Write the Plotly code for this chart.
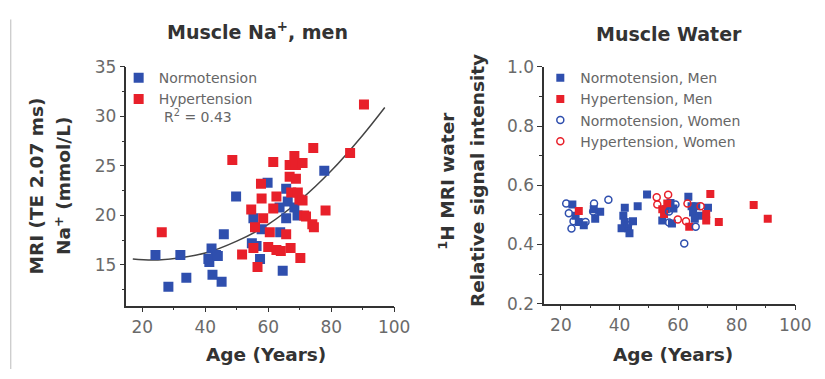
import plotly.graph_objects as go

W, H = 825, 379

# ---------------- Left panel: Muscle Na+, men ----------------
norm_age = [24.2, 28.3, 32.1, 34.0, 41.3, 42.0, 43.4, 42.3, 45.2, 41.0, 44.0, 45.9, 49.8,
            55.3, 54.8, 56.3, 57.4, 57.9, 59.8, 63.6, 63.8, 64.6, 65.7, 65.7, 66.2, 68.3, 69.3, 77.8]
norm_na = [16.0, 12.8, 16.0, 13.7, 15.3, 16.65, 16.0, 14.0, 13.3, 15.6, 15.9, 18.1, 21.9,
           19.7, 17.2, 16.9, 15.6, 18.6, 23.3, 20.8, 18.3, 14.4, 22.7, 19.7, 21.4, 20.8, 20.0, 24.5]

hyp_age = [26.2, 48.6, 51.7, 54.6, 55.8, 55.3, 56.6, 57.7, 57.9, 58.4, 60.5, 60.0, 61.6, 61.6,
           62.6, 62.6, 64.0, 65.7, 67.1, 66.8, 68.3, 68.8, 70.9, 66.8, 68.8, 67.3, 69.4, 69.9,
           70.9, 71.4, 72.0, 70.2, 74.0, 74.5, 74.3, 78.2, 86.0, 90.4]
hyp_na = [18.3, 25.6, 16.05, 20.6, 18.8, 16.7, 14.8, 23.2, 21.7, 19.7, 18.3, 16.8, 25.4, 20.7,
          21.9, 16.5, 16.4, 18.1, 16.7, 25.1, 26.0, 25.1, 25.3, 23.9, 23.7, 22.3, 22.3, 21.6,
          21.5, 20.0, 19.9, 15.7, 19.1, 18.8, 26.8, 20.5, 26.3, 31.2]

# regression curve
fit_age = [17, 25, 40, 50, 60, 70, 80, 90, 97]
fit_na = [15.6, 15.5, 16.2, 17.4, 19.1, 21.5, 24.5, 28.1, 30.9]

# ---------------- Right panel: Muscle Water ----------------
nm_age = [23.9, 25.0, 26.1, 27.8, 31.7, 31.2, 33.4, 41.8, 41.3, 40.7, 41.8, 42.9, 43.4, 44.6,
          46.2, 49.4, 54.6, 55.8, 57.4, 57.9, 58.4, 63.5, 64.6, 65.1, 66.2, 67.3, 65.7, 70.2]
nm_w = [0.535, 0.497, 0.476, 0.465, 0.487, 0.519, 0.510, 0.524, 0.497, 0.455, 0.476, 0.455,
        0.438, 0.478, 0.529, 0.569, 0.481, 0.519, 0.540, 0.471, 0.521, 0.561, 0.529, 0.508,
        0.529, 0.497, 0.487, 0.524]

hm_age = [26.1, 54.6, 55.2, 56.3, 63.8, 69.6, 69.6, 71.0, 73.9, 85.8, 90.6]
hm_w = [0.513, 0.519, 0.503, 0.538, 0.460, 0.503, 0.481, 0.570, 0.476, 0.533, 0.487]

nw_age = [21.8, 22.7, 24.3, 23.6, 28.4, 31.3, 31.0, 36.2, 42.9, 56.9, 59.1, 62.1, 66.0, 56.9]
nw_w = [0.538, 0.505, 0.478, 0.454, 0.476, 0.538, 0.511, 0.551, 0.465, 0.474, 0.535, 0.403,
        0.460, 0.511]

hw_age = [52.7, 52.9, 56.6, 59.9, 63.2, 62.7, 67.7]
hw_w = [0.559, 0.535, 0.568, 0.484, 0.538, 0.478, 0.529]

BLUE = "#2f4fae"
RED = "#e8202a"
FONT = "DejaVu Sans, Verdana, sans-serif"


def px(x):
    return x / W


def py(y):
    return 1 - y / H


fig = go.Figure()

fig.add_trace(go.Scatter(x=fit_age, y=fit_na, mode="lines", line=dict(color="#444", width=1.5, shape="spline"),
                         showlegend=False, xaxis="x", yaxis="y", hoverinfo="skip"))
fig.add_trace(go.Scatter(x=norm_age, y=norm_na, mode="markers", name="Normotension",
                         marker=dict(symbol="square", size=10, color=BLUE),
                         xaxis="x", yaxis="y", legend="legend"))
fig.add_trace(go.Scatter(x=hyp_age, y=hyp_na, mode="markers", name="Hypertension",
                         marker=dict(symbol="square", size=10, color=RED),
                         xaxis="x", yaxis="y", legend="legend"))

fig.add_trace(go.Scatter(x=nm_age, y=nm_w, mode="markers", name="Normotension, Men",
                         marker=dict(symbol="square", size=8, color=BLUE),
                         xaxis="x2", yaxis="y2", legend="legend2"))
fig.add_trace(go.Scatter(x=hm_age, y=hm_w, mode="markers", name="Hypertension, Men",
                         marker=dict(symbol="square", size=8, color=RED),
                         xaxis="x2", yaxis="y2", legend="legend2"))
fig.add_trace(go.Scatter(x=nw_age, y=nw_w, mode="markers", name="Normotension, Women",
                         marker=dict(symbol="circle-open", size=7, color=BLUE, line=dict(width=1.5)),
                         xaxis="x2", yaxis="y2", legend="legend2"))
fig.add_trace(go.Scatter(x=hw_age, y=hw_w, mode="markers", name="Hypertension, Women",
                         marker=dict(symbol="circle-open", size=7, color=RED, line=dict(width=1.5)),
                         xaxis="x2", yaxis="y2", legend="legend2"))

axis_common = dict(showline=True, linecolor="#333", linewidth=1.5, ticks="outside", ticklen=5,
                   tickwidth=1.2, tickcolor="#333", showgrid=False, zeroline=False,
                   tickfont=dict(family=FONT, size=17, color="#6a6a6a"))

fig.update_layout(
    width=W, height=H, margin=dict(l=0, r=0, t=0, b=0),
    paper_bgcolor="white", plot_bgcolor="white",
    font=dict(family=FONT),
    xaxis=dict(domain=[px(129), px(402)], range=[15, 100], tickvals=[20, 40, 60, 80, 100],
               minor=dict(dtick=10, tick0=0, ticklen=3, ticks="outside", tickcolor="#333"),
               anchor="y", **axis_common),
    yaxis=dict(domain=[py(312), py(60)], range=[10.9, 35], tickvals=[15, 20, 25, 30, 35],
               minor=dict(dtick=2.5, tick0=0, ticklen=3, ticks="outside", tickcolor="#333"),
               anchor="x", **axis_common),
    xaxis2=dict(domain=[px(555), px(811)], range=[14.3, 100], tickvals=[20, 40, 60, 80, 100],
                minor=dict(dtick=10, tick0=0, ticklen=3, ticks="outside", tickcolor="#333"),
                anchor="y2", **axis_common),
    yaxis2=dict(domain=[py(310), py(60)], range=[0.2, 1.0], tickvals=[0.2, 0.4, 0.6, 0.8, 1.0],
                ticktext=["0.2", "0.4", "0.6", "0.8", "1.0"],
                minor=dict(dtick=0.1, tick0=0, ticklen=3, ticks="outside", tickcolor="#333"),
                anchor="x2", **axis_common),
    legend=dict(x=px(121), y=py(55), xanchor="left", yanchor="top", bgcolor="rgba(0,0,0,0)",
                font=dict(family=FONT, size=14, color="#666"), itemwidth=30,
                tracegroupgap=0),
    legend2=dict(x=px(551), y=py(55), xanchor="left", yanchor="top", bgcolor="rgba(0,0,0,0)",
                 font=dict(family=FONT, size=14, color="#666"), itemwidth=30,
                 tracegroupgap=0),
)

annotations = [
    dict(text="Muscle Na<sup>+</sup>, men", x=px(263), y=py(22), size=19, color="#333", bold=True),
    dict(text="Muscle Water", x=px(682), y=py(25), size=19, color="#333", bold=True),
    dict(text="Age (Years)", x=px(271), y=py(364), size=18.5, color="#333", bold=True),
    dict(text="Age (Years)", x=px(686), y=py(364), size=18.5, color="#333", bold=True),
    dict(text="MRI (TE 2.07 ms)", x=px(37), y=py(186), size=18.5, color="#333", angle=-90, bold=True),
    dict(text="Na<sup>+</sup> (mmol/L)", x=px(64), y=py(186), size=18.5, color="#333", angle=-90, bold=True),
    dict(text="<sup>1</sup>H MRI water", x=px(455), y=py(180), size=18.5, color="#333", angle=-90, bold=True),
    dict(text="Relative signal intensity", x=px(487), y=py(180), size=18.5, color="#333", angle=-90, bold=True),
    dict(text="R<sup>2</sup> = 0.43", x=px(202), y=py(112), size=14, color="#666", bold=False),
]
for a in annotations:
    fig.add_annotation(text=a["text"], x=a["x"], y=a["y"], xref="paper", yref="paper",
                       showarrow=False, textangle=a.get("angle", 0),
                       font=dict(family=FONT, size=a["size"], color=a["color"],
                                 weight="bold" if a["bold"] else "normal"),
                       xanchor="center", yanchor="middle")

fig.add_shape(type="line", xref="paper", yref="paper", x0=px(11), x1=px(11), y0=py(10), y1=0,
              line=dict(color="#bbb", width=1))

fig.write_html("out.html", config={"displayModeBar": False},
               post_script="document.body.style.margin='0';document.body.style.padding='0';"
                           "document.body.style.overflow='hidden';")
